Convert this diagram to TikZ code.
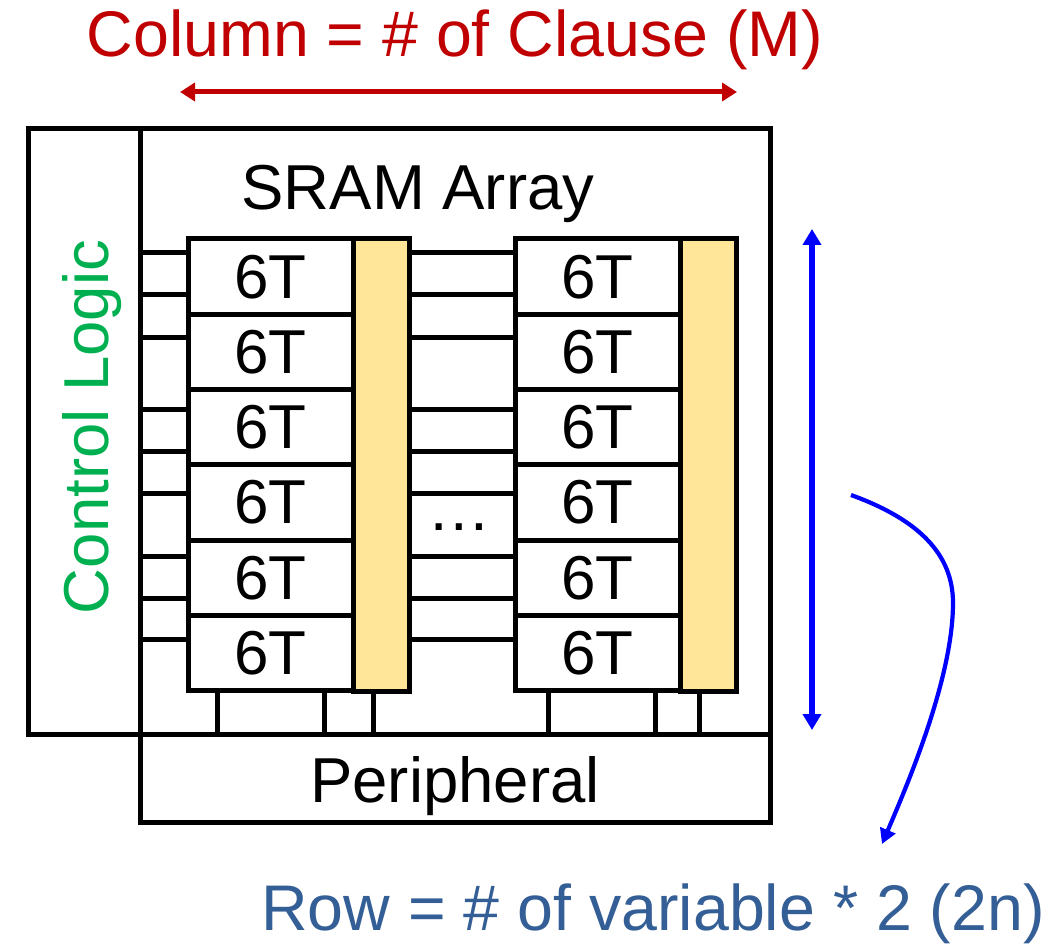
\documentclass[tikz,border=0pt]{standalone}
\usepackage{fontspec}
\setmainfont{Liberation Sans}
\usetikzlibrary{arrows.meta}
\definecolor{cred}{RGB}{192,0,0}
\definecolor{cgreen}{RGB}{0,176,80}
\definecolor{cblue}{RGB}{0,0,255}
\definecolor{csteel}{RGB}{52,94,150}
\definecolor{cyellow}{RGB}{255,230,153}
\begin{document}
\begin{tikzpicture}[x=1pt,y=-1pt, line join=miter,
  box/.style={draw, line width=5pt, inner sep=0pt, outer sep=0pt, anchor=north west},
  cell/.style={box, minimum width=165pt, minimum height=75.33pt, font=\fontsize{62}{62}\selectfont},
  bar/.style={box, fill=cyellow, minimum width=56pt, minimum height=452pt},
  wire/.style={line width=5pt},
  big/.style={font=\fontsize{63.5}{64}\selectfont, inner sep=0pt},
  head/.style={font=\fontsize{64.5}{65}\selectfont, inner sep=0pt},
  bluetip/.tip={Triangle[width=18pt,length=16pt]},
  redtip/.tip={Triangle[width=18pt,length=15pt]},
  ]
\useasboundingbox (0,0) rectangle (1053,944);
% frames
\node[box, minimum width=112pt, minimum height=605pt] (ctrl) at (28,129) {};
\node[box, minimum width=630pt, minimum height=605pt] (sram) at (140,129) {};
\node[box, minimum width=630pt, minimum height=88pt] (periph) at (140,734) {};
% cells
\foreach \i in {1,...,6} {
  \node[cell] (L\i) at (188,{239+75.33*(\i-1)}) {6T};
  \node[cell] (R\i) at (515,{239+75.33*(\i-1)}) {6T};
}
\node[bar] (LB) at (353,239) {};
\node[bar] (RB) at (680,239) {};
% word-line wires
\foreach \y in {253,295,337,409,451,493,556,598,639} {
  \draw[wire] (sram.west |- 0,\y) -- (L1.west |- 0,\y);
  \draw[wire] (LB.east |- 0,\y) -- (R1.west |- 0,\y);
}
% bit-line wires
\foreach \x in {217,324,373} {
  \draw[wire] (L6.south -| \x,0) -- (periph.north -| \x,0);
}
\foreach \x in {548,655,699} {
  \draw[wire] (R6.south -| \x,0) -- (periph.north -| \x,0);
}
% labels
\node[big, anchor=base] (sramlbl) at (418,210) {SRAM Array};
\node[big, anchor=base] (perlbl) at (455,802) {Peripheral};
\node[big, anchor=base, rotate=90, text=cgreen] (ctrllbl) at (108,427) {Control Logic};
\node[big, anchor=base] (dots) at (459,530) {…};
\node[head, anchor=base, text=cred] (collbl) at (455,57) {Column = \# of Clause (M)};
\node[head, anchor=base, text=csteel] (rowlbl) at (653,930) {Row = \# of variable * 2 (2n)};
% arrows
\coordinate (ra) at (180,92);
\coordinate (rb) at (737,92);
\draw[cred, line width=5pt, redtip-redtip] (ra) -- (rb);
\coordinate (bt) at (812,229);
\coordinate (bb) at (812,730);
\draw[cblue, line width=5.5pt, bluetip-bluetip] (bt) -- (bb);
\coordinate (cs) at (851,495);
\coordinate (cm) at (953,603);
\coordinate (ce) at (882,844);
\draw[cblue, line width=4.2pt, -{Triangle[width=16pt,length=15pt]}] (cs) .. controls (920,520) and (953,555) .. (cm) .. controls (953,680) and (905,790) .. (ce);
\end{tikzpicture}
\end{document}
